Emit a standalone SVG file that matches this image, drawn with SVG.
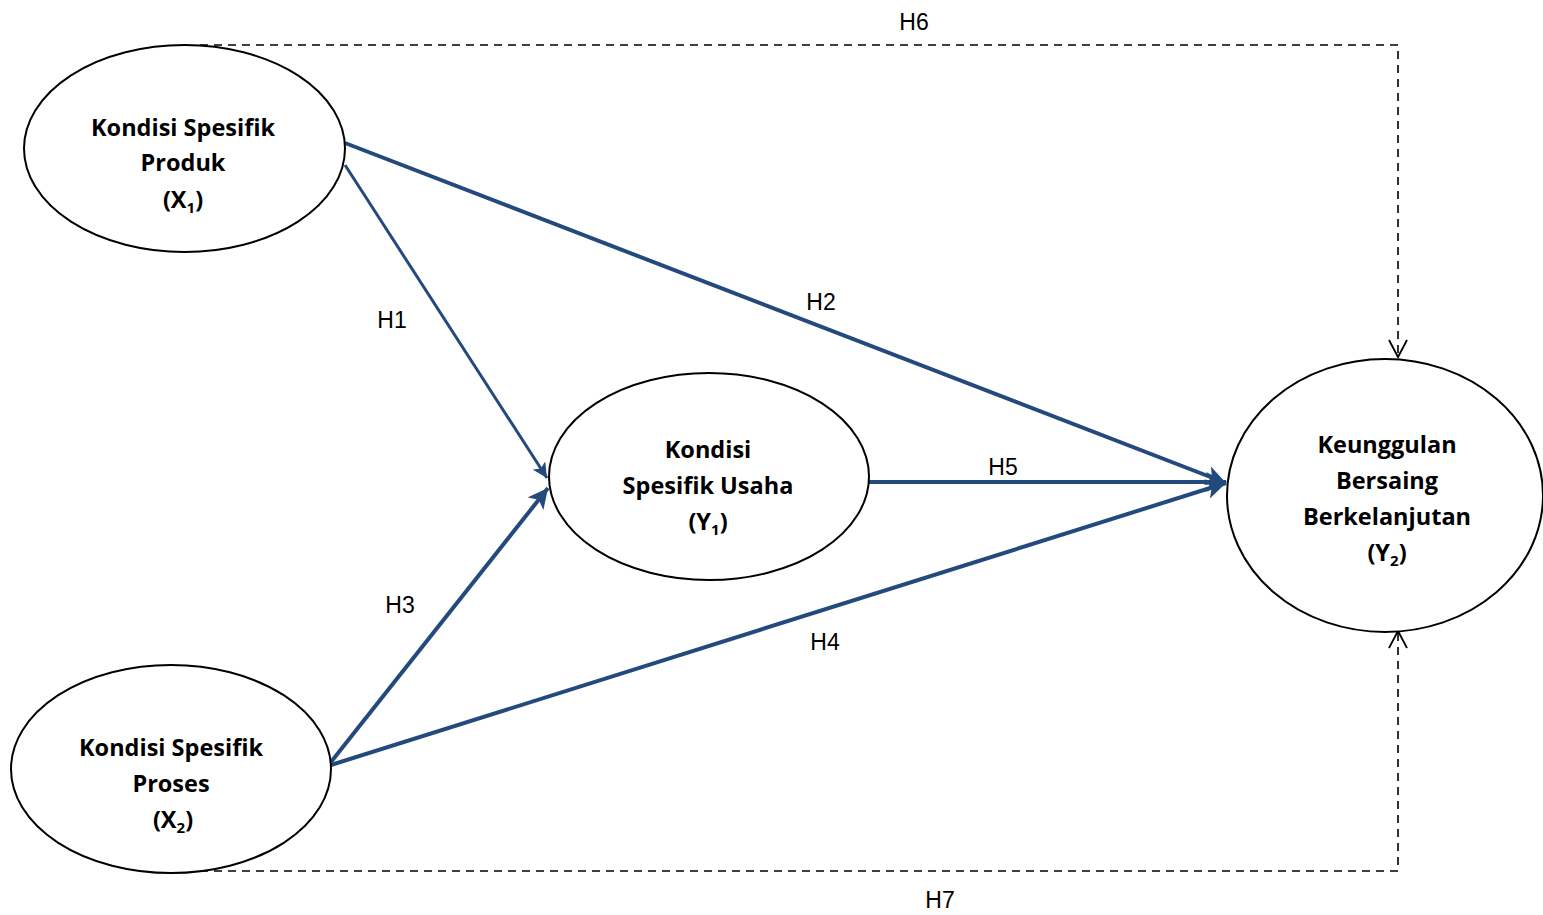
<svg xmlns="http://www.w3.org/2000/svg" width="1543" height="915" viewBox="0 0 1543 915">
  <style>
    .node { fill: #ffffff; stroke: #000000; stroke-width: 2; }
    .lbl { font-family: "Open Sans", Lato, sans-serif; font-weight: bold; font-size: 23.5px; fill: #000; text-anchor: middle; }
    .sub { font-size: 15px; }
    .hyp { font-family: "Liberation Sans", Arial, sans-serif; font-size: 23px; fill: #000; text-anchor: middle; }
    .path { stroke: #244a7d; fill: none; }
    .dash { stroke: #000; stroke-width: 1.6; stroke-dasharray: 8 6; fill: none; }
  </style>
  <defs>
    <marker id="solid" viewBox="0 0 10 10" refX="10" refY="5" markerWidth="5" markerHeight="5" markerUnits="strokeWidth" orient="auto">
      <path d="M0,0 L10,5 L0,10 L2.5,5 Z" fill="#244a7d"/>
    </marker>
    <marker id="open" viewBox="0 0 20 20" refX="18" refY="10" markerWidth="20" markerHeight="20" markerUnits="userSpaceOnUse" orient="auto">
      <path d="M1,1 L18,10 L1,19" fill="none" stroke="#000" stroke-width="1.8"/>
    </marker>
  </defs>

  <!-- connectors -->
  <g id="connectors">
    <polyline class="dash" points="200,45 1398,45 1398,357" marker-end="url(#open)"/>
    <polyline class="dash" points="200,871 1398,871 1398,631" marker-end="url(#open)"/>
    <line class="path" stroke-width="3" x1="345" y1="165" x2="547" y2="478" marker-end="url(#solid)"/>
    <line class="path" stroke-width="4" x1="345" y1="143" x2="1226" y2="483" marker-end="url(#solid)"/>
    <line class="path" stroke-width="4" x1="331" y1="762" x2="548" y2="488" marker-end="url(#solid)"/>
    <line class="path" stroke-width="4" x1="331" y1="765" x2="1226" y2="483" marker-end="url(#solid)"/>
    <line class="path" stroke-width="4" x1="869" y1="482" x2="1226" y2="482" marker-end="url(#solid)"/>
    <text class="hyp" x="914" y="30">H6</text>
    <text class="hyp" x="392" y="328">H1</text>
    <text class="hyp" x="821" y="310">H2</text>
    <text class="hyp" x="1003" y="475">H5</text>
    <text class="hyp" x="400" y="613">H3</text>
    <text class="hyp" x="825" y="650">H4</text>
    <text class="hyp" x="940" y="908">H7</text>
  </g>

  <g id="x1">
    <ellipse class="node" cx="184.5" cy="148.5" rx="160.5" ry="103.5"/>
    <text class="lbl" x="183" y="136">Kondisi Spesifik</text>
    <text class="lbl" x="183" y="171">Produk</text>
    <text class="lbl" x="183" y="208">(X<tspan class="sub" dy="5">1</tspan><tspan dy="-5">)</tspan></text>
  </g>

  <g id="x2">
    <ellipse class="node" cx="171" cy="769" rx="160" ry="104"/>
    <text class="lbl" x="171" y="756">Kondisi Spesifik</text>
    <text class="lbl" x="171" y="792">Proses</text>
    <text class="lbl" x="173" y="828">(X<tspan class="sub" dy="5">2</tspan><tspan dy="-5">)</tspan></text>
  </g>

  <g id="y1">
    <ellipse class="node" cx="709" cy="476.5" rx="160" ry="103.5"/>
    <text class="lbl" x="708" y="458">Kondisi</text>
    <text class="lbl" x="708" y="494">Spesifik Usaha</text>
    <text class="lbl" x="708" y="530">(Y<tspan class="sub" dy="5">1</tspan><tspan dy="-5">)</tspan></text>
  </g>

  <g id="y2">
    <ellipse class="node" cx="1385" cy="495.5" rx="158" ry="136.5"/>
    <text class="lbl" x="1387" y="453">Keunggulan</text>
    <text class="lbl" x="1387" y="489">Bersaing</text>
    <text class="lbl" x="1387" y="525">Berkelanjutan</text>
    <text class="lbl" x="1387" y="561">(Y<tspan class="sub" dy="5">2</tspan><tspan dy="-5">)</tspan></text>
  </g>
</svg>
